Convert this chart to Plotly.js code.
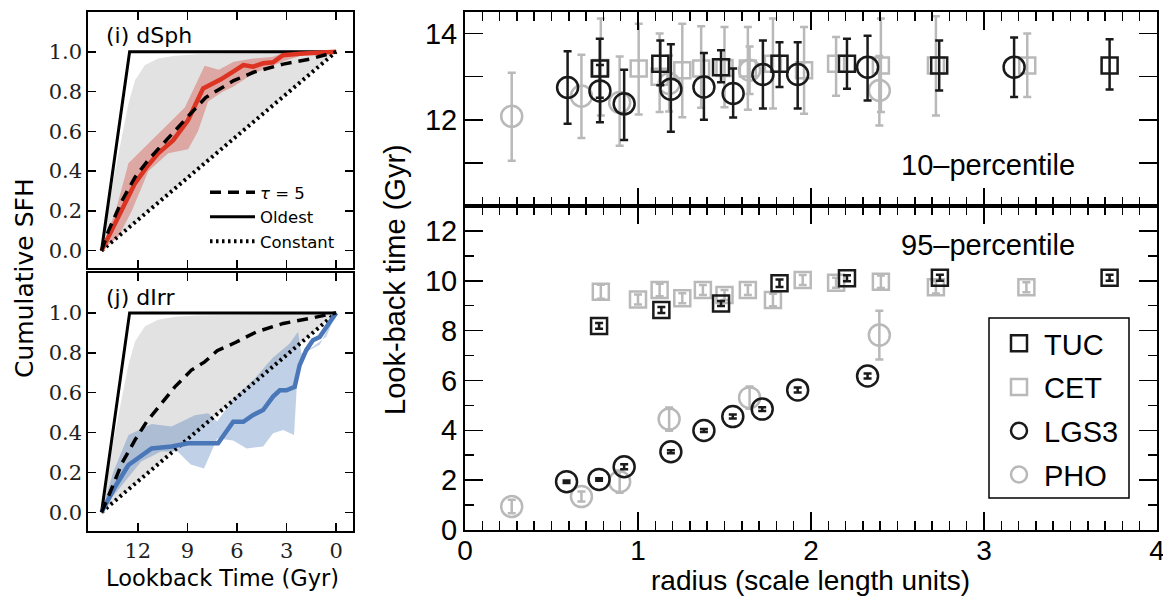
<!DOCTYPE html>
<html><head><meta charset="utf-8">
<script src="https://cdn.plot.ly/plotly-3.0.1.min.js"></script>
<style>html,body{margin:0;padding:0;background:#fff;} #chart{width:1163px;height:596px;}</style>
</head><body><div id="chart"></div>
<script>
// ---------- Left panels: cumulative SFH (lookback time in Gyr) ----------
const oldestX = [14.2, 12.5, 0];
const oldestY = [0, 1.0, 1.0];
const constX = [14.2, 0];
const constY = [0, 1.0];
const greyUpX = [14.2, 13.48, 12.97, 12.57, 12.17, 11.57, 10.77, 9.76, 8.36, 6.85, 4.5, 2.5, 0];
const greyUpY = [0, 0.355, 0.573, 0.74, 0.857, 0.933, 0.966, 0.98, 0.987, 0.99, 0.993, 0.997, 1.0];

// (i) dSph
const dsphX = [14.2, 13.48, 12.77, 12.17, 11.47, 10.77, 9.86, 8.96, 8.05, 7.0, 6.23, 5.62, 5.02, 4.42, 3.82, 3.22, 2.21, 1.21, 0];
const dsphY = [0, 0.12, 0.24, 0.34, 0.42, 0.49, 0.556, 0.657, 0.816, 0.86, 0.9, 0.933, 0.925, 0.942, 0.947, 0.983, 0.99, 0.995, 1.0];
const dsphUpX = [14.2, 13.28, 12.57, 11.47, 10.36, 9.16, 7.96, 7.1, 6.2, 5.02, 3.82, 3.01, 1.5, 0];
const dsphUpY = [0, 0.22, 0.44, 0.53, 0.62, 0.72, 0.93, 0.91, 0.95, 0.966, 0.975, 1.0, 1.0, 1.0];
const dsphLoX = [14.2, 13.18, 12.37, 11.37, 10.16, 8.96, 8.36, 7.75, 6.85, 6.23, 5.02, 4.02, 3.01, 2.01, 0];
const dsphLoY = [0, 0.07, 0.2, 0.4, 0.49, 0.51, 0.6, 0.75, 0.8, 0.824, 0.891, 0.925, 0.958, 0.983, 1.0];
const tauIX = [14.2, 13.78, 12.97, 12.17, 11.37, 10.57, 9.76, 8.8, 7.9, 7.0, 6.2, 5.0, 3.2, 1.6, 0];
const tauIY = [0, 0.10, 0.25, 0.37, 0.456, 0.53, 0.607, 0.69, 0.77, 0.813, 0.855, 0.897, 0.938, 0.963, 1.0];

// (j) dIrr
const dirrX = [14.2, 13.38, 12.57, 11.17, 9.96, 8.96, 7.15, 6.23, 5.62, 5.02, 4.42, 3.82, 3.41, 3.01, 2.51, 2.21, 1.81, 1.41, 1.0, 0.6, 0];
const dirrY = [0, 0.128, 0.237, 0.32, 0.33, 0.346, 0.346, 0.454, 0.454, 0.488, 0.513, 0.58, 0.612, 0.612, 0.629, 0.738, 0.813, 0.863, 0.879, 0.93, 1.0];
const dirrUpX = [14.2, 13.5, 12.57, 11.17, 9.96, 8.55, 7.75, 7.2, 6.2, 5.02, 3.82, 2.81, 2.31, 2.1, 1.41, 0.6, 0];
const dirrUpY = [0, 0.2, 0.387, 0.443, 0.43, 0.487, 0.496, 0.455, 0.57, 0.663, 0.776, 0.846, 0.905, 0.795, 0.83, 0.88, 1.0];
const dirrLoX = [14.2, 13.6, 11.8, 10.6, 9.6, 8.8, 8.0, 7.2, 6.23, 5.42, 4.42, 3.82, 3.2, 2.55, 2.3, 1.81, 1.0, 0.38, 0];
const dirrLoY = [0, 0.07, 0.255, 0.305, 0.305, 0.24, 0.22, 0.37, 0.36, 0.32, 0.33, 0.396, 0.413, 0.388, 0.75, 0.805, 0.84, 0.94, 1.0];
const tauJX = [14.2, 13.88, 12.97, 12.17, 11.47, 10.67, 9.76, 8.76, 7.96, 7.2, 6.13, 4.82, 3.21, 1.61, 0];
const tauJY = [0, 0.06, 0.245, 0.363, 0.454, 0.537, 0.629, 0.713, 0.754, 0.81, 0.85, 0.905, 0.947, 0.972, 1.0];

const leftYTicks = [0, 0.2, 0.4, 0.6, 0.8, 1.0];
const leftYLabels = ['0.0', '0.2', '0.4', '0.6', '0.8', '1.0'];
const leftXTicks = [12, 9, 6, 3, 0];

// ---------- Right panels: look-back time vs radius ----------
// 10-percentile (top)
const tuc10X = [0.779, 1.129, 1.48, 1.818, 2.208, 2.741, 3.726];
const tuc10Y = [13.19, 13.3, 13.22, 13.3, 13.3, 13.26, 13.26];
const tuc10Up = [0.69, 0.54, 0.39, 0.5, 0.58, 0.58, 0.61];
const tuc10Dn = [0.68, 0.5, 0.35, 0.54, 0.58, 0.58, 0.56];
const cet10X = [0.785, 1.004, 1.125, 1.256, 1.365, 1.5, 1.635, 1.78, 1.96, 2.145, 2.404, 2.722, 3.25];
const cet10Y = [13.2, 13.19, 13.0, 13.15, 13.19, 13.2, 13.19, 13.3, 13.15, 13.3, 13.26, 13.26, 13.26];
const cet10Up = [1.15, 1.04, 1.0, 1.08, 0.98, 0.95, 0.96, 1.05, 1.0, 0.62, 1.09, 1.14, 0.74];
const cet10Dn = [1.1, 1.07, 0.82, 1.09, 0.91, 0.91, 0.96, 1.04, 1.01, 0.74, 1.08, 1.16, 0.73];
const lgs10X = [0.593, 0.78, 0.92, 1.19, 1.381, 1.55, 1.722, 1.923, 2.327, 3.174];
const lgs10Y = [12.75, 12.67, 12.37, 12.71, 12.76, 12.61, 13.05, 13.05, 13.22, 13.22];
const lgs10Up = [0.84, 0.6, 0.79, 1.04, 0.79, 0.58, 0.79, 0.75, 0.73, 0.69];
const lgs10Dn = [0.84, 0.73, 0.84, 0.99, 0.76, 0.56, 0.79, 0.79, 0.77, 0.69];
const pho10X = [0.27, 0.673, 0.894, 1.18, 1.645, 2.395];
const pho10Y = [12.08, 12.55, 12.4, 12.84, 13.15, 12.68];
const pho10Up = [1.01, 0.96, 1.07, 0.65, 0.55, 0.8];
const pho10Dn = [1.03, 0.97, 1.0, 0.65, 0.55, 0.81];

// 95-percentile (bottom)
const tuc95X = [0.775, 1.135, 1.48, 1.818, 2.208, 2.745, 3.726];
const tuc95Y = [8.19, 8.83, 9.09, 9.9, 10.1, 10.12, 10.12];
const tuc95E = [0.12, 0.12, 0.1, 0.15, 0.12, 0.12, 0.12];
const cet95X = [0.785, 1.0, 1.125, 1.256, 1.375, 1.5, 1.635, 1.78, 1.952, 2.145, 2.404, 2.722, 3.245];
const cet95Y = [9.56, 9.25, 9.63, 9.3, 9.63, 9.43, 9.63, 9.23, 10.03, 9.92, 9.96, 9.74, 9.74];
const cet95E = [0.28, 0.2, 0.25, 0.2, 0.2, 0.2, 0.2, 0.25, 0.2, 0.2, 0.25, 0.25, 0.2];
const lgs95X = [0.587, 0.775, 0.92, 1.19, 1.381, 1.548, 1.718, 1.923, 2.327];
const lgs95Y = [1.94, 2.03, 2.54, 3.14, 3.99, 4.55, 4.85, 5.62, 6.18];
const lgs95E = [0.05, 0.05, 0.1, 0.06, 0.06, 0.08, 0.08, 0.1, 0.1];
const pho95X = [0.27, 0.673, 0.894, 1.18, 1.645, 2.395];
const pho95Y = [0.94, 1.34, 1.94, 4.45, 5.31, 7.82];
const pho95E = [0.27, 0.2, 0.45, 0.47, 0.45, 0.98];

// ---------- styling ----------
const W = 1163, H = 596;
const BLACK = '#1a1a1a', GREY = '#b9b9b9';
const GREYFILL = '#e2e2e2';
const RED = '#dd3322', REDBAND = 'rgba(214,70,60,0.38)';
const BLUE = '#4a77b8', BLUEBAND = 'rgba(74,119,184,0.35)';
const SANS = 'Liberation Sans, Arial, sans-serif';
const LSANS = 'DejaVu Sans, sans-serif';
const SERIF = 'DejaVu Serif, serif';

function band(upX, upY, loX, loY) {
  return { x: upX.concat(loX.slice().reverse()), y: upY.concat(loY.slice().reverse()) };
}

function leftTraces(xa, ya, lineX, lineY, upX, upY, loX, loY, tauX, tauY, col, bandCol, legend) {
  const b = band(upX, upY, loX, loY);
  return [
    { x: greyUpX, y: greyUpY, xaxis: xa, yaxis: ya, mode: 'lines', fill: 'toself', fillcolor: GREYFILL,
      line: { width: 0, color: GREYFILL }, hoverinfo: 'skip', showlegend: false },
    { x: b.x, y: b.y, xaxis: xa, yaxis: ya, mode: 'lines', fill: 'toself', fillcolor: bandCol,
      line: { width: 0, color: bandCol }, hoverinfo: 'skip', showlegend: false },
    { x: constX, y: constY, xaxis: xa, yaxis: ya, mode: 'lines', name: 'Constant',
      line: { color: '#000', width: 4, dash: '2.5px,3.5px' }, showlegend: legend, legend: 'legend2', legendrank: 3 },
    { x: oldestX, y: oldestY, xaxis: xa, yaxis: ya, mode: 'lines', name: 'Oldest',
      line: { color: '#000', width: 3 }, showlegend: legend, legend: 'legend2', legendrank: 2 },
    { x: lineX, y: lineY, xaxis: xa, yaxis: ya, mode: 'lines', line: { color: col, width: 4.5 }, showlegend: false },
    { x: tauX, y: tauY, xaxis: xa, yaxis: ya, mode: 'lines', name: '<i>τ</i> = 5',
      line: { color: '#000', width: 3.5, dash: '11px,7px' }, showlegend: legend, legend: 'legend2', legendrank: 1 }
  ];
}

function pts(xa, ya, x, y, up, dn, name, sym, col, size, legend, rank) {
  return {
    x: x, y: y, xaxis: xa, yaxis: ya, mode: 'markers', name: name, legendgroup: name,
    showlegend: legend, legendrank: rank,
    marker: { symbol: sym, size: size, color: col, line: { color: col, width: 2.5 } },
    error_y: { type: 'data', symmetric: false, array: up, arrayminus: dn, color: col, thickness: 2.5, width: 4 }
  };
}

const traces = []
  .concat(leftTraces('x', 'y', dsphX, dsphY, dsphUpX, dsphUpY, dsphLoX, dsphLoY, tauIX, tauIY, RED, REDBAND, true))
  .concat(leftTraces('x2', 'y2', dirrX, dirrY, dirrUpX, dirrUpY, dirrLoX, dirrLoY, tauJX, tauJY, BLUE, BLUEBAND, false))
  .concat([
    pts('x3', 'y3', cet10X, cet10Y, cet10Up, cet10Dn, 'CET', 'square-open', GREY, 16, false, 2),
    pts('x3', 'y3', pho10X, pho10Y, pho10Up, pho10Dn, 'PHO', 'circle-open', GREY, 21, false, 4),
    pts('x3', 'y3', tuc10X, tuc10Y, tuc10Up, tuc10Dn, 'TUC', 'square-open', BLACK, 16, false, 1),
    pts('x3', 'y3', lgs10X, lgs10Y, lgs10Up, lgs10Dn, 'LGS3', 'circle-open', BLACK, 21, false, 3),
    pts('x4', 'y4', cet95X, cet95Y, cet95E, cet95E, 'CET', 'square-open', GREY, 16, true, 2),
    pts('x4', 'y4', pho95X, pho95Y, pho95E, pho95E, 'PHO', 'circle-open', GREY, 21, true, 4),
    pts('x4', 'y4', tuc95X, tuc95Y, tuc95E, tuc95E, 'TUC', 'square-open', BLACK, 16, true, 1),
    pts('x4', 'y4', lgs95X, lgs95Y, lgs95E, lgs95E, 'LGS3', 'circle-open', BLACK, 21, true, 3)
  ]);

const baseAx = { showgrid: false, zeroline: false, showline: true, linecolor: '#000', linewidth: 2,
  mirror: 'allticks', ticks: 'inside', tickcolor: '#000', tickwidth: 1.5, ticklabeloverflow: 'allow' };

const leftX = Object.assign({}, baseAx, { domain: [88.3 / W, 352.7 / W], range: [15, -1], tickmode: 'array',
  tickvals: leftXTicks, ticklen: 8, tickfont: { family: SERIF, size: 21, color: '#222' } });
const leftY = Object.assign({}, baseAx, { tickmode: 'array', tickvals: leftYTicks, ticktext: leftYLabels, ticklen: 8,
  tickfont: { family: SERIF, size: 21, color: '#222' } });
const rightX = Object.assign({}, baseAx, { domain: [465 / W, 1157 / W], range: [0, 4], tickmode: 'linear', tick0: 0, dtick: 1,
  ticklen: 18, minor: { tickmode: 'linear', tick0: 0, dtick: 0.1, ticks: 'inside', ticklen: 9, tickwidth: 1.5, tickcolor: '#000' },
  tickfont: { family: SANS, size: 28, color: '#000' } });
const rightY = Object.assign({}, baseAx, { ticklen: 18, tickfont: { family: SANS, size: 29, color: '#000' } });

function ann(text, px, py, size, family, extra) {
  return Object.assign({ text: text, xref: 'paper', yref: 'paper', x: px / W, y: 1 - py / H,
    xanchor: 'center', yanchor: 'middle',
    showarrow: false, font: { family: family, size: size, color: '#000' } }, extra || {});
}

const layout = {
  width: W, height: H, margin: { l: 0, r: 0, t: 0, b: 0 },
  paper_bgcolor: '#fff', plot_bgcolor: 'rgba(0,0,0,0)',
  showlegend: true,
  xaxis: Object.assign({}, leftX, { anchor: 'y', showticklabels: false }),
  yaxis: Object.assign({}, leftY, { anchor: 'x', domain: [1 - 268 / H, 1 - 12 / H], range: [-0.087, 1.2] }),
  xaxis2: Object.assign({}, leftX, { anchor: 'y2', showticklabels: true }),
  yaxis2: Object.assign({}, leftY, { anchor: 'x2', domain: [1 - 531 / H, 1 - 273 / H], range: [-0.094, 1.2] }),
  xaxis3: Object.assign({}, rightX, { anchor: 'y3', showticklabels: false }),
  yaxis3: Object.assign({}, rightY, { anchor: 'x3', domain: [1 - 206 / H, 1 - 12 / H], range: [10, 14.5],
    tickmode: 'array', tickvals: [11, 12, 13, 14], ticktext: ['', '12', '', '14'] }),
  xaxis4: Object.assign({}, rightX, { anchor: 'y4', showticklabels: true, ticklabelstandoff: -6 }),
  yaxis4: Object.assign({}, rightY, { anchor: 'x4', domain: [1 - 530 / H, 1 - 206 / H], range: [0, 13],
    tickmode: 'linear', tick0: 0, dtick: 2,
    minor: { tickmode: 'linear', tick0: 0, dtick: 1, ticks: 'inside', ticklen: 9, tickwidth: 1.5, tickcolor: '#000' } }),
  legend: { x: 994 / W, y: 1 - 318 / H, xanchor: 'left', yanchor: 'top', bgcolor: 'rgba(0,0,0,0)', borderwidth: 0,
    font: { family: SANS, size: 29, color: '#000' }, tracegroupgap: 3, itemwidth: 40,
    traceorder: 'grouped' },
  legend2: { x: 205 / W, y: 1 - 175 / H, xanchor: 'left', yanchor: 'top', bgcolor: 'rgba(0,0,0,0)', borderwidth: 0,
    font: { family: LSANS, size: 16.5, color: '#000' }, itemwidth: 45, tracegroupgap: 0 },
  shapes: [
    { type: 'rect', xref: 'paper', yref: 'paper', x0: 989 / W, x1: 1129 / W, y0: 1 - 498 / H, y1: 1 - 318 / H,
      line: { color: '#000', width: 1.5 }, fillcolor: '#fff', layer: 'above' }
  ],
  annotations: [
    ann('(i) dSph', 104, 35, 22, LSANS, { xanchor: 'left' }),
    ann('(j) dIrr', 104, 297, 22, LSANS, { xanchor: 'left' }),
    ann('Cumulative SFH', 25, 278, 25, LSANS, { textangle: -90 }),
    ann('Lookback Time (Gyr)', 222, 578, 22.5, LSANS),
    ann('10–percentile', 988, 165, 29, SANS),
    ann('95–percentile', 988, 245, 29, SANS),
    ann('Look-back time (Gyr)', 395, 280, 29, SANS, { textangle: -90 }),
    ann('radius (scale length units)', 810, 580, 28, SANS)
  ]
};

Plotly.newPlot('chart', traces, layout, { displayModeBar: false, staticPlot: true });
</script></body></html>
